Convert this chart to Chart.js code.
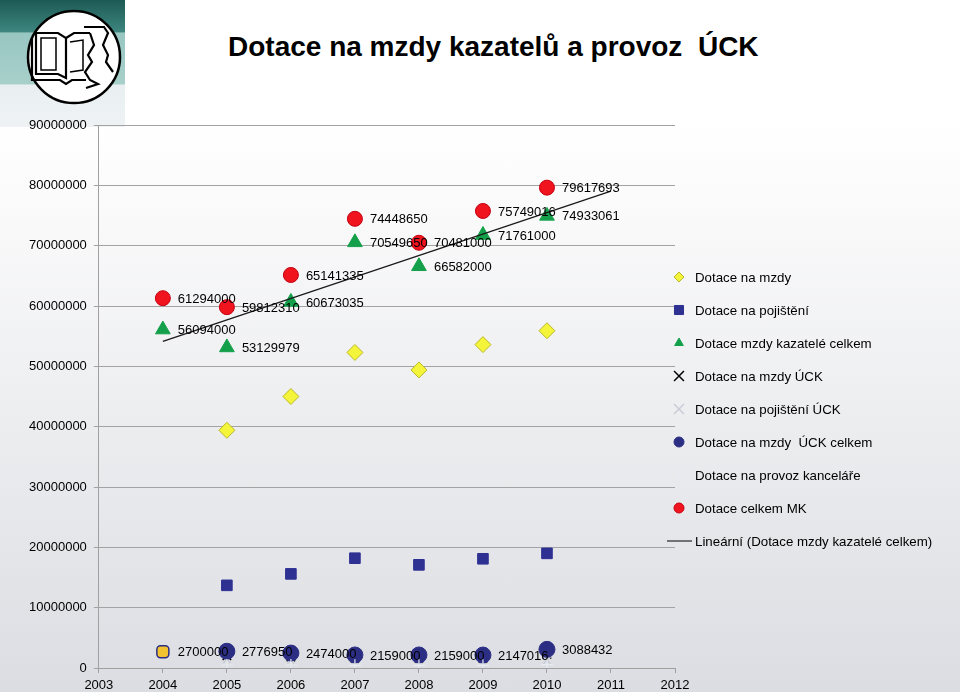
<!DOCTYPE html>
<html>
<head>
<meta charset="utf-8">
<script src="https://cdn.jsdelivr.net/npm/chart.js@4/dist/chart.umd.min.js"></script>
<style>
html,body{margin:0;padding:0;}
body{width:960px;height:692px;position:relative;overflow:hidden;
  background:linear-gradient(to bottom,#ffffff 0px,#ffffff 125px,#dcdde2 692px);
  font-family:"Liberation Sans",Arial,sans-serif;}
#logo{position:absolute;left:0;top:0;}
#title{position:absolute;left:228px;top:30px;font-weight:bold;font-size:28px;line-height:34px;color:#000;white-space:pre;}
#c{position:absolute;left:0;top:0;}
</style>
</head>
<body>
<svg id="logo" width="125" height="130" viewBox="0 0 125 130">
  <defs>
    <linearGradient id="tg" x1="0" y1="0" x2="0" y2="1">
      <stop offset="0" stop-color="#1d5a55"/>
      <stop offset="0.25" stop-color="#3d857e"/>
      <stop offset="0.26" stop-color="#98c6c1"/>
      <stop offset="0.66" stop-color="#a8d0cb"/>
      <stop offset="0.67" stop-color="#e9eff1"/>
      <stop offset="1" stop-color="#eef2f4"/>
    </linearGradient>
  </defs>
  <rect x="0" y="0" width="125" height="127" fill="url(#tg)"/>
  <circle cx="74" cy="57" r="46" fill="#fff" stroke="#000" stroke-width="2.5"/>
  <g fill="none" stroke="#000" stroke-width="2.2">
    <path d="M36 33 L58 33 L66 38 L66 78 L58 74 L36 74 Z"/>
    <path d="M66 38 L74 33 L90 33"/>
    <path d="M41 38 L56 38 L56 70 L41 70 Z" stroke-width="1.5"/>
    <path d="M70 42 L83 40 L83 70 L70 72" stroke-width="1.5"/>
    <path d="M32 38 L32 80 L60 80 L66 84 L72 80 L86 80"/>
    <path d="M84 27 L104 27 L108 33 L103 45 L108 55 L106 62 L113 72"/>
    <path d="M90 33 L94 45 L88 55 L92 62 L85 72 L90 80 L98 84 L86 88"/>
  </g>
</svg>
<div id="title">Dotace na mzdy kazatelů a provoz  ÚCK</div>
<canvas id="c" width="960" height="692"></canvas>
<script>
// ---- Data ----
const years = [2004, 2005, 2006, 2007, 2008, 2009, 2010];
const xTickLabels = ['2003','2004','2005','2006','2007','2008','2009','2010','2011','2012'];
const yTickLabels = ['0','10000000','20000000','30000000','40000000','50000000','60000000','70000000','80000000','90000000'];

const seriesNames = [
  'Dotace na mzdy',
  'Dotace na pojištění',
  'Dotace mzdy kazatelé celkem',
  'Dotace na mzdy ÚCK',
  'Dotace na pojištění ÚCK',
  'Dotace na mzdy  ÚCK celkem',
  'Dotace na provoz kanceláře',
  'Dotace celkem MK'
];
const trendName = 'Lineární (Dotace mzdy kazatelé celkem)';

const mzdy          = [null, 39400000, 45000000, 52300000, 49400000, 53600000, 55900000];
const pojisteni     = [null, 13700000, 15600000, 18200000, 17100000, 18100000, 19000000];
const kazateleCelk  = [56094000, 53129979, 60673035, 70549650, 66582000, 71761000, 74933061];
const mzdyUCK       = [null, 2050000, 1830000, 1600000, 1600000, 1590000, 2290000];
const pojisteniUCK  = [null, 1400000, 1300000, 1250000, 1250000, 1250000, 1300000];
const uckCelkem     = [2700000, 2776950, 2474000, 2159000, 2159000, 2147016, 3088432];
const provoz        = [null, 500000, 500000, 450000, 450000, 450000, 550000];
const celkemMK      = [61294000, 59812310, 65141335, 74448650, 70481000, 75749016, 79617693];

const FONT = '"Liberation Sans", Arial, sans-serif';

function pts(arr){ return years.map((yr,i)=>({x:yr, y:arr[i]})).filter(p=>p.y!==null); }

// least-squares trend of "Dotace mzdy kazatelé celkem", extended one period forward (as the spreadsheet trendline)
function trend(arr){
  const xs = years, n = xs.length;
  const mx = xs.reduce((a,b)=>a+b,0)/n, my = arr.reduce((a,b)=>a+b,0)/n;
  let sxy=0, sxx=0;
  for(let i=0;i<n;i++){ sxy+=(xs[i]-mx)*(arr[i]-my); sxx+=(xs[i]-mx)*(xs[i]-mx); }
  const b = sxy/sxx, a = my - b*mx;
  const x0 = xs[0], x1 = xs[n-1]+1;
  return [{x:x0, y:a+b*x0},{x:x1, y:a+b*x1}];
}

const styles = [
  {pointStyle:'rectRot', radius:8, bg:'#f4f43a', border:'#b8b828', bw:1, lr:5},
  {pointStyle:'rect', radius:7.5, bg:'#2e3192', border:'#2e3192', bw:1, lr:6.4},
  {pointStyle:'triangle', radius:8.5, bg:'#14a04a', border:'#14a04a', bw:1, lr:5},
  {pointStyle:'crossRot', radius:6, bg:'#000', border:'#000', bw:1.5, lr:7},
  {pointStyle:'crossRot', radius:5, bg:'#c8ccd6', border:'#c8ccd6', bw:1.5, lr:7},
  {pointStyle:'circle', radius:8, bg:'#2b2e83', border:'#2b2e83', bw:1, lr:5},
  {pointStyle:'cross', radius:6, bg:'#e6ecf0', border:'#e6ecf0', bw:1.2, lr:6},
  {pointStyle:'circle', radius:7.5, bg:'#f0141e', border:'#c40010', bw:1, lr:5}
];
const seriesData = [mzdy, pojisteni, kazateleCelk, mzdyUCK, pojisteniUCK, uckCelkem, provoz, celkemMK];
const withLabels = [false, false, true, false, false, true, false, true];

const datasets = seriesData.map((arr,i)=>{
  const s = styles[i];
  return {
    label: seriesNames[i], data: pts(arr), showLine:false,
    pointStyle: s.pointStyle, pointRadius: s.radius, pointHoverRadius: s.radius,
    pointBackgroundColor: s.bg, pointBorderColor: s.border, pointBorderWidth: s.bw,
    order: 20 - i, dl: withLabels[i]
  };
});
// first point of the ÚCK total series is drawn as a yellow rounded box in the reference
datasets[5].pointStyle = pts(uckCelkem).map((p,i)=> i===0 ? 'rectRounded' : 'circle');
datasets[5].pointBackgroundColor = pts(uckCelkem).map((p,i)=> i===0 ? '#f2c230' : '#2b2e83');
datasets[5].pointRadius = pts(uckCelkem).map((p,i)=> i===0 ? 7 : 8);
datasets[5].pointBorderWidth = pts(uckCelkem).map((p,i)=> i===0 ? 1.5 : 1);

datasets.push({
  label: trendName, data: trend(kazateleCelk), showLine:true, pointRadius:0,
  borderColor:'#1a1a1a', borderWidth:1.3, order: 1, dl:false
});

const labelPlugin = {
  id:'dataLabels',
  afterDatasetsDraw(chart){
    const ctx = chart.ctx; ctx.save();
    ctx.font = '13px ' + FONT; ctx.fillStyle = '#000';
    ctx.textAlign = 'left'; ctx.textBaseline = 'middle';
    chart.data.datasets.forEach((ds,di)=>{
      if(!ds.dl) return;
      const meta = chart.getDatasetMeta(di);
      meta.data.forEach((el,j)=>{
        ctx.fillText(String(ds.data[j].y), el.x + 15, el.y + 1);
      });
    });
    ctx.restore();
  }
};

function drawMarker(ctx, style, r, x, y){
  if (Chart.helpers && Chart.helpers.drawPoint){
    Chart.helpers.drawPoint(ctx, {pointStyle:style, radius:r, rotation:0, borderWidth:ctx.lineWidth}, x, y);
  } else {
    ctx.beginPath(); ctx.arc(x,y,r,0,Math.PI*2); ctx.fill(); ctx.stroke();
  }
}

const legendPlugin = {
  id:'sideLegend',
  afterDraw(chart){
    const ctx = chart.ctx; ctx.save();
    const x0 = chart.chartArea.right + 4, top = 277, step = 33;
    ctx.font = '13.3px ' + FONT; ctx.textBaseline = 'middle'; ctx.textAlign='left';
    seriesNames.forEach((name,i)=>{
      const s = styles[i], y = top + i*step;
      ctx.fillStyle = s.bg; ctx.strokeStyle = s.border; ctx.lineWidth = s.bw;
      drawMarker(ctx, s.pointStyle, s.lr, x0, y);
      ctx.fillStyle = '#000';
      ctx.fillText(name, x0 + 16, y + 1);
    });
    const y = top + seriesNames.length*step;
    ctx.strokeStyle = '#333'; ctx.lineWidth = 1.3;
    ctx.beginPath(); ctx.moveTo(x0-12, y); ctx.lineTo(x0+13, y); ctx.stroke();
    ctx.fillStyle = '#000'; ctx.fillText(trendName, x0 + 16, y + 1);
    ctx.restore();
  }
};

new Chart(document.getElementById('c'), {
  type:'scatter',
  data:{ datasets },
  options:{
    responsive:false, animation:false, events:[],
    layout:{ padding:{ left:22, right:285, top:125, bottom:0 } },
    plugins:{ legend:{display:false}, tooltip:{enabled:false} },
    scales:{
      x:{ type:'linear', min:2003, max:2012,
          afterFit:(scale)=>{ scale.height = 24; },
          ticks:{ stepSize:1, autoSkip:false, maxRotation:0, padding:5, color:'#000',
                  font:{size:13, family:FONT},
                  callback:(v)=> xTickLabels[Math.round(v-2003)] },
          grid:{ drawOnChartArea:false, drawTicks:true, tickLength:5, color:'#a0a0a0' },
          border:{ color:'#a0a0a0' } },
      y:{ min:0, max:90000000,
          ticks:{ stepSize:10000000, padding:7, color:'#000', font:{size:13, family:FONT},
                  callback:(v)=> yTickLabels[Math.round(v/10000000)] },
          grid:{ color:'#a3a3a3', tickLength:5 },
          border:{ color:'#a0a0a0' } }
    }
  },
  plugins:[labelPlugin, legendPlugin]
});
</script>
</body>
</html>
